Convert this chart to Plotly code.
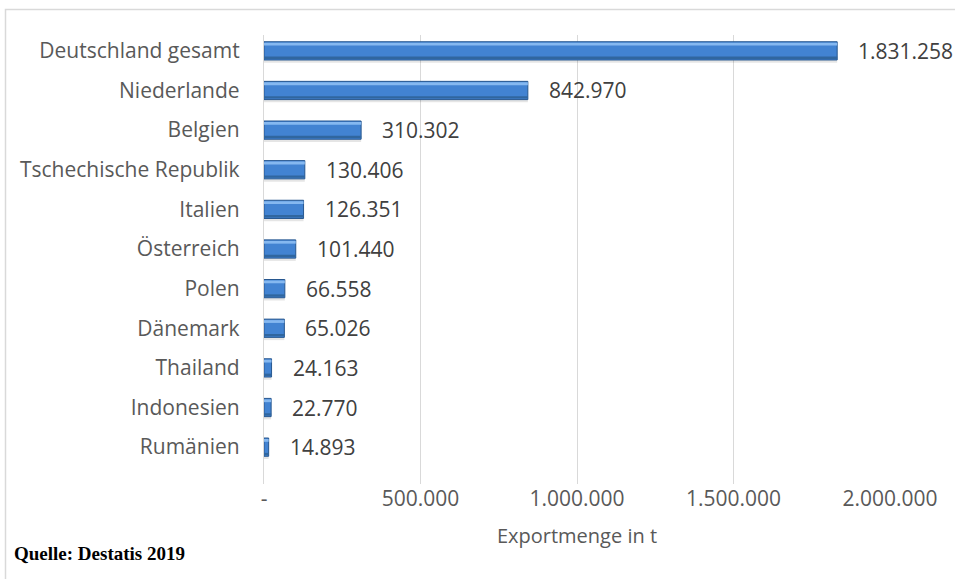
import plotly.graph_objects as go

# Exportmengen (t) nach Zielland, Quelle: Destatis 2019
laender = [
    "Deutschland gesamt", "Niederlande", "Belgien", "Tschechische Republik",
    "Italien", "Österreich", "Polen", "Dänemark", "Thailand", "Indonesien", "Rumänien",
]
mengen = [1831258, 842970, 310302, 130406, 126351, 101440, 66558, 65026, 24163, 22770, 14893]

x_tickvals = [0, 500000, 1000000, 1500000, 2000000]
x_ticktext = ["-", "500.000", "1.000.000", "1.500.000", "2.000.000"]


def de_format(v):
    return f"{v:,}".replace(",", ".")


FONT = "Open Sans"
TEXT_COL = "#404040"
LABEL_COL = "#595959"
FS = 21
BAR_W = 0.46

fig = go.Figure()

# soft drop shadow under each bar
fig.add_trace(go.Bar(
    x=mengen, y=laender, orientation="h",
    width=BAR_W, offset=-BAR_W / 2 + 0.07,
    marker=dict(color="rgba(0,0,0,0.10)", line=dict(width=0)),
    hoverinfo="skip", showlegend=False,
))
# main bar body
fig.add_trace(go.Bar(
    x=mengen, y=laender, orientation="h",
    width=BAR_W, offset=-BAR_W / 2,
    marker=dict(color="#4283d2", line=dict(color="#27578f", width=1)),
    hoverinfo="skip", showlegend=False,
))
# upper bevel highlight
fig.add_trace(go.Bar(
    x=mengen, y=laender, orientation="h",
    width=0.07, offset=-BAR_W / 2 + 0.025,
    marker=dict(color="#85b8f0", line=dict(width=0)),
    hoverinfo="skip", showlegend=False,
))
# lower bevel shade
fig.add_trace(go.Bar(
    x=mengen, y=laender, orientation="h",
    width=0.06, offset=BAR_W / 2 - 0.025 - 0.06,
    marker=dict(color="#30669f", line=dict(width=0)),
    hoverinfo="skip", showlegend=False,
))

W, H = 955, 579
L, R, T, B = 264, 65, 35, 95
pw, ph = W - L - R, H - T - B


def px_x(p):
    return (p - L) / pw


def px_y(p):
    return (H - B - p) / ph


annotations = [
    dict(x=v, y=c, xref="x", yref="y", text=de_format(v), showarrow=False,
         xanchor="left", yanchor="middle", xshift=19,
         font=dict(family=FONT, size=FS, color=TEXT_COL))
    for c, v in zip(laender, mengen)
]
annotations.append(dict(
    x=px_x(12), y=px_y(553), xref="paper", yref="paper",
    text="<b>Quelle: Destatis 2019</b>",
    showarrow=False, xanchor="left", yanchor="middle",
    font=dict(family="Liberation Serif", size=19, color="#000000"),
))

fig.update_layout(
    width=W, height=H,
    margin=dict(l=L, r=R, t=T, b=B),
    paper_bgcolor="white", plot_bgcolor="white",
    barmode="overlay",
    font=dict(family=FONT, color=TEXT_COL),
    xaxis=dict(
        range=[0, 2000000],
        tickvals=x_tickvals, ticktext=x_ticktext,
        tickfont=dict(family=FONT, size=FS, color=LABEL_COL),
        showgrid=True, gridcolor="#d9d9d9", gridwidth=1.3,
        zeroline=False, showline=False, ticks="",
        title=dict(text="Exportmenge in t", standoff=17,
                   font=dict(family=FONT, size=FS - 1, color=LABEL_COL)),
    ),
    yaxis=dict(
        type="category", categoryorder="array", categoryarray=laender,
        range=[10.93, -0.4],
        tickfont=dict(family=FONT, size=FS, color=LABEL_COL),
        showgrid=False, zeroline=False, ticks="",
        showline=True, linecolor="#d9d9d9", linewidth=1.3,
        ticklabelstandoff=19,
    ),
    annotations=annotations,
    shapes=[
        dict(
            type="rect", xref="paper", yref="paper",
            x0=px_x(5.5), x1=px_x(990), y0=px_y(9.5), y1=px_y(620),
            line=dict(color="#d9d9d9", width=1.5), fillcolor="rgba(0,0,0,0)",
            layer="below",
        ),
    ],
)

fig.write_html("out.html")
